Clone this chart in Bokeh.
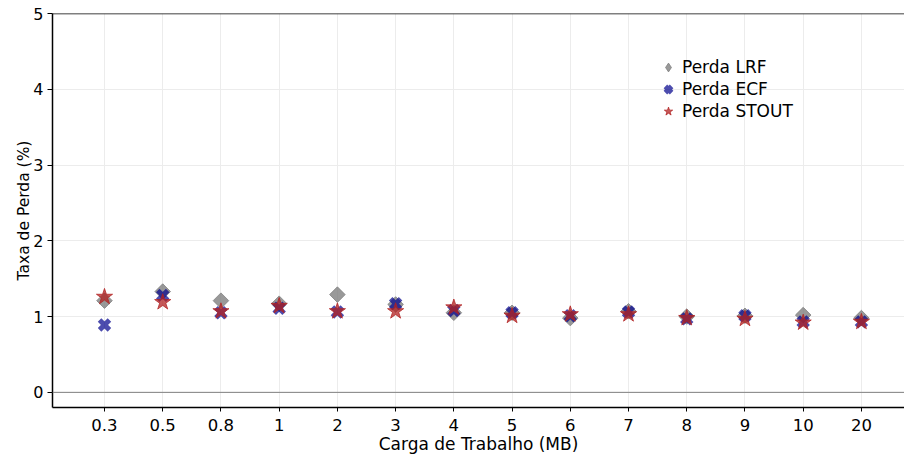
import math
from bokeh.plotting import figure
from bokeh.models import (Range1d, FixedTicker, Span, Legend, LegendItem,
                          ColumnDataSource)
from bokeh.embed import file_html
from bokeh.resources import INLINE

# Workload sizes (MB) and loss rate (%) per method
cargas = ["0.3", "0.5", "0.8", "1", "2", "3", "4", "5", "6", "7", "8", "9", "10", "20"]
perda_lrf = [1.21, 1.33, 1.21, 1.17, 1.29, 1.16, 1.05, 1.05, 0.98, 1.07, 1.00, 1.01, 1.02, 0.98]
perda_ecf = [0.89, 1.28, 1.05, 1.11, 1.06, 1.17, 1.08, 1.05, 1.01, 1.06, 0.97, 1.01, 0.93, 0.93]
perda_stout = [1.26, 1.19, 1.07, 1.14, 1.07, 1.07, 1.12, 1.01, 1.03, 1.03, 0.98, 0.97, 0.92, 0.93]

pos = list(range(len(cargas)))
src = ColumnDataSource(dict(x=pos, lrf=perda_lrf, ecf=perda_ecf, stout=perda_stout))

FONT = "DejaVu Sans"

p = figure(width=904, height=456, output_backend="svg", toolbar_location=None,
           x_range=Range1d(-0.893, 13.74), y_range=Range1d(-0.2, 5.0),
           min_border_left=52, min_border_right=0, min_border_top=13,
           min_border_bottom=49)
p.outline_line_color = None
p.background_fill_color = "white"
p.border_fill_color = "white"
# range used only by the legend key renderer, so its points stay outside the frame
p.extra_y_ranges = {"key": Range1d(100, 101)}

# axes
p.xaxis.ticker = FixedTicker(ticks=pos)
p.xaxis.major_label_overrides = {i: c for i, c in enumerate(cargas)}
p.yaxis.ticker = FixedTicker(ticks=[0, 1, 2, 3, 4, 5])
p.xaxis.axis_label = "Carga de Trabalho (MB)"
p.yaxis.axis_label = "Taxa de Perda (%)"
for ax in (p.xaxis[0], p.yaxis[0]):
    ax.axis_label_text_font = FONT
    ax.axis_label_text_font_style = "normal"
    ax.axis_label_text_color = "black"
    ax.major_label_text_font = FONT
    ax.major_label_text_color = "black"
    ax.axis_line_color = "black"
    ax.axis_line_width = 1.5
    ax.minor_tick_line_color = None
    ax.major_tick_in = 0
    ax.major_tick_line_color = "black"
p.xaxis.axis_label_text_font_size = "17px"
p.xaxis.major_label_text_font_size = "16.5px"
p.yaxis.axis_label_text_font_size = "15.5px"
p.yaxis.major_label_text_font_size = "16px"
p.xaxis.major_tick_out = 4
p.xaxis.major_label_standoff = 7
p.xaxis.axis_label_standoff = 0
p.yaxis.major_tick_out = 5
p.yaxis.major_label_standoff = 4
p.yaxis.axis_label_standoff = -3

p.xgrid.ticker = FixedTicker(ticks=pos)
p.xgrid.grid_line_color = "#ececec"
p.ygrid.grid_line_color = "#ececec"

# top border and zero reference line
p.add_layout(Span(location=5.0, dimension="width", line_color="black", line_width=1.5))
p.add_layout(Span(location=0.0, dimension="width", line_color="#808080", line_width=1))

r_lrf = p.scatter("x", "lrf", source=src, marker="square", size=11, angle=math.pi / 4,
                  fill_color="gray", line_color="gray", fill_alpha=0.8, line_alpha=0.8)
r_ecf = p.scatter("x", "ecf", source=src, marker="x", size=14, line_width=5,
                  line_color="darkblue", line_alpha=0.7)
r_stout = p.scatter("x", "stout", source=src, marker="star", size=17,
                    fill_color="firebrick", line_color="firebrick",
                    fill_alpha=0.75, line_alpha=0.75)

# diamond key for the LRF legend entry (legend keys ignore marker angle)
k_lrf = p.scatter("x", "lrf", source=src, y_range_name="key", marker="diamond", size=12,
                  fill_color="gray", line_color="gray", fill_alpha=0.8, line_alpha=0.8)

legend = Legend(items=[LegendItem(label="Perda LRF", renderers=[k_lrf]),
                       LegendItem(label="Perda ECF", renderers=[r_ecf]),
                       LegendItem(label="Perda STOUT", renderers=[r_stout])],
                location=(604, 285))
legend.border_line_color = None
legend.background_fill_alpha = 0
legend.label_text_font = FONT
legend.label_text_font_size = "17px"
legend.label_text_color = "black"
legend.glyph_width = 24
legend.glyph_height = 22
legend.label_height = 22
legend.spacing = 0
legend.padding = 0
legend.margin = 0
legend.label_standoff = 2
p.add_layout(legend, "center")

open("out.html", "w").write(file_html(p, INLINE))
